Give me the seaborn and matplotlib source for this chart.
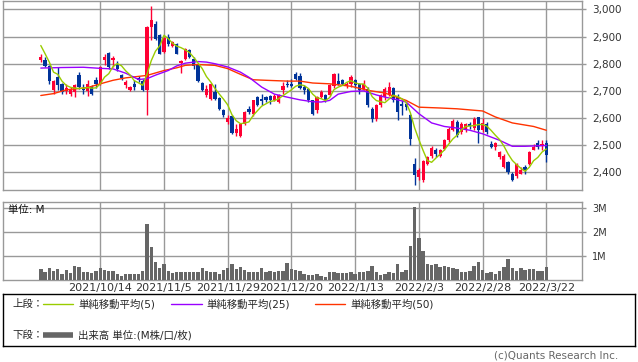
import matplotlib

matplotlib.use("Agg")
import matplotlib.pyplot as plt
import numpy as np
import pandas as pd
import seaborn as sns

# --- data -------------------------------------------------------------------
# TSE trading days, 2021/9/24 .. 2022/3/22
holidays = ["2021-11-03", "2021-11-23", "2021-12-31", "2022-01-03",
            "2022-01-10", "2022-02-11", "2022-02-23", "2022-03-21"]
days = pd.bdate_range("2021-09-24", "2022-03-22")
days = days[~days.isin(pd.to_datetime(holidays))]

opens = [2815, 2812, 2790, 2702, 2751, 2724, 2699, 2690, 2696, 2757,
         2708, 2699, 2717, 2741, 2724, 2815, 2839, 2815, 2800, 2758,
         2720, 2704, 2724, 2748, 2736, 2702, 2935, 2945, 2906, 2843,
         2898, 2867, 2871, 2803, 2818, 2852, 2818, 2797, 2729, 2685,
         2671, 2696, 2675, 2631, 2585, 2606, 2545, 2533, 2579, 2634,
         2616, 2677, 2671, 2677, 2680, 2667, 2659, 2702, 2726, 2726,
         2763, 2755, 2714, 2708, 2665, 2628, 2677, 2684, 2684, 2717,
         2736, 2739, 2717, 2726, 2739, 2726, 2708, 2708, 2634, 2597,
         2647, 2677, 2684, 2710, 2677, 2653, 2653, 2610, 2430, 2383,
         2371, 2432, 2459, 2484, 2462, 2487, 2518, 2557, 2585, 2548,
         2557, 2579, 2565, 2604, 2555, 2579, 2506, 2493, 2456, 2420,
         2438, 2395, 2385, 2395, 2420, 2432, 2483, 2508, 2499, 2508]
highs = [2837, 2825, 2795, 2739, 2788, 2729, 2726, 2716, 2726, 2769,
         2724, 2739, 2720, 2751, 2790, 2837, 2845, 2827, 2809, 2763,
         2739, 2718, 2739, 2753, 2745, 2940, 3011, 2957, 2910, 2900,
         2910, 2885, 2876, 2812, 2857, 2855, 2825, 2800, 2733, 2720,
         2730, 2726, 2678, 2634, 2610, 2610, 2579, 2582, 2625, 2643,
         2665, 2680, 2690, 2680, 2684, 2690, 2690, 2733, 2739, 2745,
         2769, 2765, 2720, 2712, 2668, 2680, 2702, 2690, 2724, 2765,
         2765, 2742, 2733, 2757, 2745, 2730, 2739, 2714, 2640, 2653,
         2690, 2714, 2733, 2715, 2690, 2665, 2659, 2616, 2454, 2417,
         2447, 2462, 2496, 2491, 2487, 2524, 2567, 2597, 2591, 2585,
         2582, 2585, 2604, 2605, 2600, 2585, 2515, 2512, 2480, 2466,
         2440, 2401, 2434, 2420, 2426, 2478, 2506, 2518, 2518, 2518]
lows = [2805, 2788, 2724, 2690, 2702, 2687, 2690, 2680, 2677, 2708,
        2687, 2683, 2686, 2712, 2722, 2794, 2782, 2788, 2775, 2739,
        2712, 2700, 2704, 2733, 2699, 2610, 2888, 2888, 2835, 2840,
        2867, 2862, 2834, 2766, 2815, 2822, 2782, 2733, 2699, 2677,
        2668, 2665, 2630, 2605, 2579, 2540, 2533, 2530, 2575, 2616,
        2606, 2643, 2647, 2660, 2653, 2662, 2655, 2690, 2714, 2714,
        2739, 2708, 2690, 2660, 2610, 2620, 2672, 2660, 2680, 2712,
        2720, 2720, 2710, 2714, 2712, 2690, 2704, 2640, 2585, 2590,
        2640, 2665, 2680, 2660, 2594, 2610, 2628, 2499, 2352, 2371,
        2365, 2428, 2452, 2456, 2456, 2481, 2512, 2551, 2530, 2542,
        2550, 2561, 2555, 2508, 2550, 2540, 2491, 2481, 2450, 2415,
        2395, 2368, 2380, 2393, 2393, 2428, 2481, 2487, 2483, 2438]
closes = [2823, 2790, 2736, 2736, 2720, 2696, 2712, 2702, 2720, 2714,
          2702, 2724, 2690, 2726, 2788, 2825, 2788, 2822, 2779, 2748,
          2731, 2714, 2716, 2739, 2702, 2937, 2962, 2892, 2837, 2896,
          2874, 2880, 2837, 2809, 2855, 2825, 2790, 2736, 2704, 2708,
          2726, 2671, 2634, 2610, 2601, 2545, 2561, 2579, 2622, 2622,
          2665, 2647, 2663, 2665, 2665, 2680, 2684, 2717, 2720, 2719,
          2745, 2712, 2702, 2665, 2616, 2677, 2696, 2668, 2720, 2761,
          2724, 2726, 2726, 2751, 2720, 2704, 2726, 2647, 2597, 2647,
          2684, 2708, 2714, 2668, 2622, 2643, 2640, 2524, 2389, 2407,
          2442, 2456, 2491, 2466, 2481, 2518, 2561, 2589, 2536, 2579,
          2579, 2570, 2597, 2555, 2580, 2548, 2493, 2508, 2475, 2462,
          2401, 2373, 2432, 2407, 2407, 2475, 2493, 2493, 2506, 2463]
volume_m = [0.46, 0.35, 0.50, 0.39, 0.46, 0.25, 0.42, 0.28, 0.58, 0.54,
            0.35, 0.35, 0.28, 0.39, 0.50, 0.42, 0.39, 0.39, 0.25, 0.17,
            0.25, 0.25, 0.25, 0.25, 0.39, 2.33, 1.39, 0.75, 0.50, 0.67,
            0.39, 0.28, 0.33, 0.33, 0.33, 0.33, 0.33, 0.33, 0.49, 0.39,
            0.33, 0.33, 0.25, 0.42, 0.50, 0.67, 0.44, 0.54, 0.42, 0.32,
            0.32, 0.32, 0.50, 0.32, 0.39, 0.33, 0.36, 0.36, 0.69, 0.44,
            0.42, 0.38, 0.25, 0.21, 0.21, 0.25, 0.17, 0.13, 0.33, 0.33,
            0.29, 0.29, 0.29, 0.33, 0.25, 0.33, 0.33, 0.39, 0.57, 0.33,
            0.19, 0.25, 0.33, 0.29, 0.67, 0.33, 0.42, 1.42, 3.06, 1.75,
            1.21, 0.67, 0.63, 0.67, 0.54, 0.58, 0.54, 0.50, 0.46, 0.33,
            0.33, 0.39, 0.58, 0.75, 0.42, 0.29, 0.33, 0.25, 0.39, 0.54,
            0.88, 0.50, 0.38, 0.50, 0.42, 0.46, 0.46, 0.38, 0.38, 0.54]

# 5-day MA before enough closes are on the chart
ma5_head = [2867, 2837, 2806, 2769]
# 25 / 50-day MA, read at these candles
ma25_day = [0, 5, 10, 14, 17, 20, 23, 25, 27, 30, 32, 34, 37, 39, 41, 44, 47,
            49, 52, 55, 58, 61, 64, 66, 68, 70, 73, 76, 79, 81, 84, 86, 89,
            92, 95, 98, 101, 104, 108, 111, 114, 119]
ma25_val = [2784, 2786, 2787, 2783, 2781, 2765, 2742, 2745, 2758, 2775, 2792,
            2802, 2808, 2806, 2800, 2788, 2769, 2750, 2714, 2688, 2677, 2667,
            2660, 2659, 2665, 2688, 2698, 2700, 2685, 2677, 2667, 2659, 2616,
            2582, 2569, 2563, 2555, 2542, 2518, 2496, 2496, 2499]
ma50_day = [0, 3, 6, 11, 14, 17, 20, 25, 29, 32, 34, 37, 41, 44, 47, 50, 53,
            58, 61, 64, 68, 73, 77, 81, 86, 89, 94, 98, 104, 107, 111, 116, 119]
ma50_val = [2683, 2690, 2704, 2712, 2726, 2739, 2748, 2757, 2775, 2785, 2794,
            2797, 2794, 2782, 2761, 2741, 2739, 2736, 2736, 2729, 2726, 2717,
            2702, 2692, 2665, 2640, 2637, 2634, 2626, 2604, 2582, 2569, 2555]

tick_dates = ["2021/10/14", "2021/11/5", "2021/11/29", "2021/12/20",
              "2022/1/13", "2022/2/3", "2022/2/28", "2022/3/22"]
price_ticks = [2400, 2500, 2600, 2700, 2800, 2900, 3000]
vol_ticks = [1, 2, 3]

# --- frame ------------------------------------------------------------------
sns.set_style("white")
plt.rcParams["font.family"] = ["DejaVu Sans", "Noto Sans CJK JP"]

RED, BLUE = "#ff0033", "#003399"
GRID = "#999999"

df = pd.DataFrame({"day": days, "open": opens, "high": highs, "low": lows,
                   "close": closes, "volume": volume_m})
df["x"] = np.arange(len(df))
ma5 = df["close"].rolling(5).mean()
ma5.iloc[:4] = ma5_head
df["ma5"] = ma5
tick_pos = [int(np.where(df["day"] == pd.Timestamp(d.replace("/", "-")))[0][0])
            for d in tick_dates]

W, H = 638, 362


def rect(l, t, r, b):
    return [l / W, 1 - b / H, (r - l) / W, (b - t) / H]


fig = plt.figure(figsize=(W / 100, H / 100), dpi=100)
ax = fig.add_axes(rect(3, 1, 582, 190))
axv = fig.add_axes(rect(3, 202, 582, 280))
axl = fig.add_axes(rect(3, 294, 635, 346))

# --- price panel ------------------------------------------------------------
up = df["close"] >= df["open"]
cols = np.where(up, RED, BLUE)
ax.vlines(df["x"], df["low"], df["high"], colors=cols, lw=1, zorder=3)
body = np.maximum((df["close"] - df["open"]).abs(), 3)
ax.bar(df["x"], body, bottom=np.minimum(df["open"], df["close"]),
       width=0.75, color=cols, lw=0, zorder=3)

sns.lineplot(x=ma50_day, y=ma50_val, color="#ff3300", lw=1, ax=ax, zorder=4)
sns.lineplot(x=ma25_day, y=ma25_val, color="#9900ff", lw=1, ax=ax, zorder=4)
sns.lineplot(data=df, x="x", y="ma5", color="#99cc00", lw=1, ax=ax, zorder=4)

ax.set_xlim(-8.9, 127.4)
ax.set_ylim(2335, 3031)
ax.set_yticks(price_ticks)
ax.set_yticklabels([f"{v:,}" for v in price_ticks])
ax.set_xticks(tick_pos)
ax.yaxis.tick_right()
ax.tick_params(axis="y", length=3, color=GRID, width=1, pad=4.3,
               labelsize=7.5, labelcolor="#333333")
ax.tick_params(axis="x", length=0, labelbottom=False)
ax.grid(True, color=GRID, lw=1)
ax.set_axisbelow(True)
ax.set_xlabel("")
ax.set_ylabel("")

# --- volume panel -----------------------------------------------------------
sns.barplot(data=df, x="x", y="volume", native_scale=True, width=0.8,
            color="#666666", saturation=1, linewidth=0, ax=axv, zorder=3)
axv.set_xlim(-8.9, 127.4)
axv.set_ylim(0, 3.26)
axv.set_yticks(vol_ticks)
axv.set_yticklabels([f"{v}M" for v in vol_ticks])
axv.set_xticks(tick_pos)
axv.set_xticklabels(tick_dates)
axv.yaxis.tick_right()
axv.tick_params(axis="y", length=3, color=GRID, width=1, pad=4.3,
                labelsize=7, labelcolor="#333333")
axv.tick_params(axis="x", length=0, pad=1.8, labelsize=8, labelcolor="#333333")
axv.grid(True, color=GRID, lw=1)
axv.set_axisbelow(True)
axv.set_xlabel("")
axv.set_ylabel("")
axv.text(5 / 579, 0.9, "単位: M", transform=axv.transAxes, fontsize=7.5,
         va="center", ha="left", color="#111111")

for a in (ax, axv):
    for s in a.spines.values():
        s.set_color(GRID)
        s.set_linewidth(1)

# --- legend box -------------------------------------------------------------
axl.set_xlim(0, 632)
axl.set_ylim(52, 0)
axl.set_xticks([])
axl.set_yticks([])
for s in axl.spines.values():
    s.set_color("black")
    s.set_linewidth(1)
fs = 7.5
axl.text(9, 10, "上段：", fontsize=fs, va="center")
axl.plot([40, 70], [10, 10], color="#99cc00", lw=1)
axl.text(75, 10, "単純移動平均(5)", fontsize=fs, va="center")
axl.plot([168, 199], [10, 10], color="#9900ff", lw=1)
axl.text(203, 10, "単純移動平均(25)", fontsize=fs, va="center")
axl.plot([312, 342], [10, 10], color="#ff3300", lw=1)
axl.text(347, 10, "単純移動平均(50)", fontsize=fs, va="center")
axl.text(9, 41, "下段：", fontsize=fs, va="center")
axl.plot([40, 70], [41, 41], color="#666666", lw=4, solid_capstyle="butt")
axl.text(75, 41, "出来高 単位:(M株/口/枚)", fontsize=fs, va="center")

fig.text(618 / W, 1 - 356 / H, "(c)Quants Research Inc.", fontsize=7.5,
         color="#666666", ha="right", va="center")

fig.savefig("out.png", dpi=100)
